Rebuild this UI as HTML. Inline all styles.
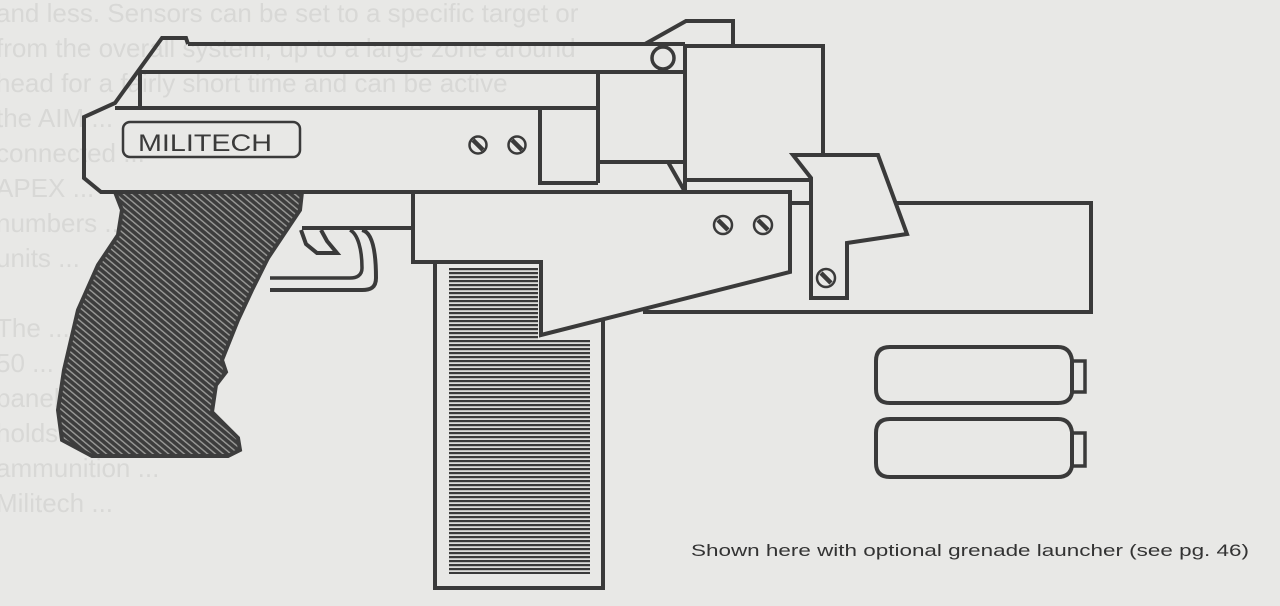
<!DOCTYPE html>
<html><head><meta charset="utf-8"><style>
html,body{margin:0;padding:0;background:#e8e8e6;}
body{width:1280px;height:606px;overflow:hidden;position:relative;}
.ghost{position:absolute;font-family:"Liberation Sans",sans-serif;color:#d8d8d6;font-size:26px;line-height:35px;white-space:pre;left:-4px;top:-4px;}
svg{position:absolute;left:0;top:0;}
</style></head><body>
<div class="ghost">and less. Sensors can be set to a specific target or
from the overall system, up to a large zone around
head for a fairly short time and can be active
the AIM ...
connected ...
APEX ...
numbers ...
units ...

The ...
50 ...
panel ...
holds ...
ammunition ...
Militech ...</div>
<svg width="1280" height="606" viewBox="0 0 1280 606">
<defs>
<pattern id="diag" width="5" height="5" patternUnits="userSpaceOnUse" patternTransform="rotate(-50)">
<rect width="5" height="5" fill="#3d3d3d"/><rect width="1.4" height="5" fill="#9a9a98"/>
</pattern>
<pattern id="hz" width="6" height="4" patternUnits="userSpaceOnUse">
<rect width="6" height="4" fill="#dcdcda"/><rect width="6" height="2.2" fill="#3a3a3a"/>
</pattern>
</defs>
<g fill="none" stroke="#3a3a3a" stroke-width="4" stroke-linejoin="miter">
<!-- grip -->
<path d="M115,192 L302,192 L300,210 L288,228 L268,258 L252,290 L238,320 L228,345 L222,360 L226,372 L216,385 L212,412 L238,438 L240,450 L228,456 L92,456 L62,440 L58,410 L64,370 L78,310 L98,265 L118,235 L122,210 Z" fill="url(#diag)" stroke="#3d3d3d"/>
<!-- magazine -->
<rect x="435" y="262" width="168" height="326" fill="#e8e8e6"/>
<path d="M449,268 L538,268 L538,340 L590,340 L590,574 L449,574 Z" fill="url(#hz)" stroke="none"/>
<!-- trigger guard -->
<path d="M302,228 L413,228"/>
<path d="M362,230 C372,232 376,250 376,278 C376,288 370,290 362,290 L270,290" stroke-width="4"/>
<path d="M350,230 C358,234 362,250 362,268 C362,276 356,278 350,278 L270,278" stroke-width="3.5"/>
<path d="M301,230 L306,244 L317,253 L337,253 L327,241 L321,230" fill="#e8e8e6"/>
<!-- launcher barrel -->
<path d="M790,203 L1091,203 L1091,312 L643,312" fill="#e8e8e6"/>
<!-- frame -->
<path d="M413,192 L790,192 L790,272 L541,335 L541,262 L413,262 Z" fill="#e8e8e6"/>
<!-- upper-right block -->
<path d="M685,46 L823,46 L823,180 L685,180"/>
<path d="M685,46 L685,190"/>
<!-- front sight -->
<path d="M645,44 L686,21 L733,21 L733,46"/>
<circle cx="663" cy="58" r="11" stroke-width="3.5"/>
<!-- slide -->
<path d="M188,44 L685,44"/>
<path d="M188,44 L186,38 L162,38 L115,103 L84,117 L84,178 L101,192 L413,192"/>
<path d="M140,108 L140,72 L685,72"/>
<path d="M115,108 L598,108"/>
<path d="M540,108 L540,183 L598,183"/>
<path d="M598,73 L598,183"/>
<path d="M598,162 L685,162"/>
<path d="M668,162 L684,190"/>
<!-- latch -->
<path d="M793,155 L878,155 L907,234 L847,243 L847,298 L811,298 L811,178 Z" fill="#e8e8e6"/>
<!-- label -->
<rect x="123" y="122" width="177" height="35" rx="7" stroke-width="2.5"/>
</g>
<!-- screws -->
<g stroke="#3a3a3a" fill="none">
<g stroke-width="2.5"><circle cx="478" cy="145" r="8.5"/><circle cx="517" cy="145" r="8.5"/><circle cx="723" cy="225" r="9"/><circle cx="763" cy="225" r="9"/><circle cx="826" cy="278" r="9"/></g>
<g stroke-width="4.5"><path d="M473,140 L483,150"/><path d="M512,140 L522,150"/><path d="M718,220 L728,230"/><path d="M758,220 L768,230"/><path d="M821,273 L831,283"/></g>
</g>
<text x="138" y="151" font-family="Liberation Sans Narrow, Liberation Sans, sans-serif" font-size="24" fill="#3a3a3a" textLength="134" lengthAdjust="spacingAndGlyphs">MILITECH</text>
<!-- grenades -->
<g fill="none" stroke="#3a3a3a" stroke-width="4">
<path d="M890,347 L1058,347 Q1070,347 1072,360 L1072,393 Q1070,403 1058,403 L890,403 Q876,403 876,389 L876,361 Q876,347 890,347 Z"/>
<path d="M1072,361 L1085,361 L1085,392 L1072,392" stroke-width="3.5"/>
<path d="M890,419 L1058,419 Q1070,419 1072,432 L1072,466 Q1070,477 1058,477 L890,477 Q876,477 876,463 L876,433 Q876,419 890,419 Z"/>
<path d="M1072,433 L1085,433 L1085,466 L1072,466" stroke-width="3.5"/>
</g>
<text x="691" y="556" font-family="Liberation Sans, sans-serif" font-size="17" fill="#333" textLength="558" lengthAdjust="spacingAndGlyphs">Shown here with optional grenade launcher (see pg. 46)</text>
</svg>
</body></html>
